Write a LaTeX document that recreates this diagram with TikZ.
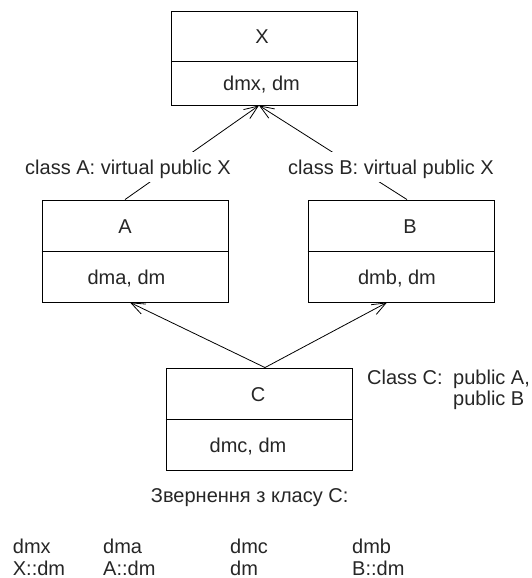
\documentclass[tikz,border=0pt]{standalone}
\usepackage{fontspec}
\setmainfont{Liberation Sans}
\usetikzlibrary{arrows.meta}
\begin{document}
\begin{tikzpicture}[x=1pt,y=-1pt,
  box/.style={draw, line width=0.9pt, minimum width=186pt, minimum height=102pt, inner sep=0pt},
  divider/.style={line width=0.9pt},
  txt/.style={font=\fontsize{20}{24}\selectfont, text=black!85, inner sep=0pt, text height=14.5pt, text depth=0pt},
  lbl/.style={txt, fill=white, inner xsep=2pt, inner ysep=8pt},
  conn/.style={line width=0.8pt, -{Straight Barb[length=14pt,width=11pt]}}
]
\useasboundingbox (0,0) rectangle (531,578);

% boxes
\node[box, minimum height=94pt] (X) at (264.5,58) {};
\draw[divider] ([yshift=-51pt]X.north west) -- ([yshift=-51pt]X.north east);
\node[box] (A) at (135,251) {};
\draw[divider] ([yshift=-52pt]A.north west) -- ([yshift=-52pt]A.north east);
\node[box] (B) at (401,251) {};
\draw[divider] ([yshift=-52pt]B.north west) -- ([yshift=-52pt]B.north east);
\node[box] (C) at (259,419) {};
\draw[divider] ([yshift=-52pt]C.north west) -- ([yshift=-52pt]C.north east);

% box texts
\node[txt] (Xn) at (262,36.5) {X};
\node[txt] (Xm) at (261.5,83.5) {dmx, dm};
\node[txt] (An) at (125,226) {A};
\node[txt] (Am) at (126.5,277) {dma, dm};
\node[txt] (Bn) at (410,226) {B};
\node[txt] (Bm) at (397,277) {dmb, dm};
\node[txt] (Cn) at (258,394) {C};
\node[txt] (Cm) at (248,445) {dmc, dm};

% connectors
\draw[conn] ([xshift=-10pt]A.north) -- ([xshift=-5.5pt]X.south);
\draw[conn] ([xshift=6pt]B.north) -- ([xshift=-5.5pt]X.south);
\draw[conn] ([xshift=6pt]C.north) -- ([xshift=-5pt]A.south);
\draw[conn] ([xshift=6pt]C.north) -- ([xshift=-14pt]B.south);

% labels on connectors
\node[lbl, anchor=west] (la) at (23,167) {class A: virtual public X};
\node[lbl, anchor=west] (lb) at (286,167) {class B: virtual public X};

% class C note
\node[txt, anchor=west] (cc) at (367,377) {Class C:};
\node[txt, anchor=west] (cpa) at (453,377) {public A,};
\node[txt, anchor=west] (cpb) at (453,398) {public B};

% bottom
\node[txt] (zv) at (249.7,495) {Звернення з класу С:};
\node[txt, anchor=west] (r1a) at (12.7,546) {dmx};
\node[txt, anchor=west] (r1b) at (103,546) {dma};
\node[txt, anchor=west] (r1c) at (230,546) {dmc};
\node[txt, anchor=west] (r1d) at (352,546) {dmb};
\node[txt, anchor=west] (r2a) at (12.7,568) {X::dm};
\node[txt, anchor=west] (r2b) at (103,568) {A::dm};
\node[txt, anchor=west] (r2c) at (230,568) {dm};
\node[txt, anchor=west] (r2d) at (352,568) {B::dm};
\end{tikzpicture}
\end{document}
